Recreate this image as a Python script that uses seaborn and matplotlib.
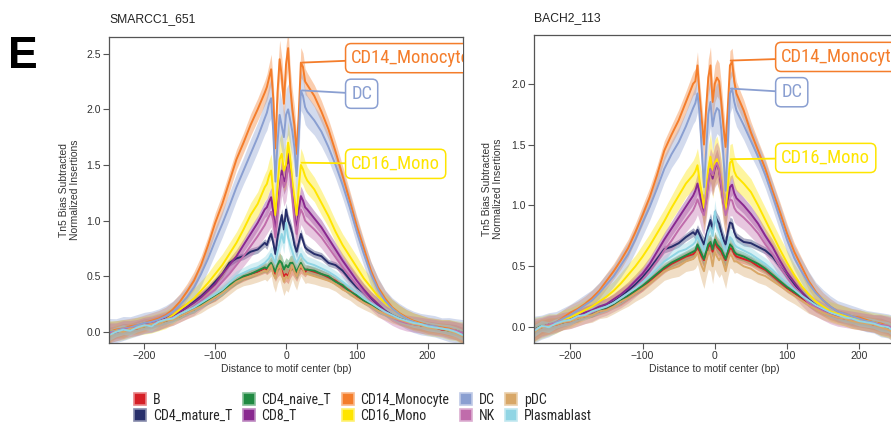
import numpy as np
import pandas as pd
import matplotlib
matplotlib.use("Agg")
import matplotlib.pyplot as plt
import matplotlib.colors as mcolors
from matplotlib.patches import Patch
from matplotlib.textpath import TextPath
from matplotlib.font_manager import FontProperties
from matplotlib import font_manager as fm
import seaborn as sns

# ---------------- data ----------------
POS = [-250, -240, -230, -220, -210, -200, -190, -180, -170, -160, -150, -140, -130, -120, -110,
       -100, -90, -80, -70, -60, -50, -40, -30,
       -27, -24, -21, -18, -15, -12, -9, -6, -3, 0, 3, 6, 9, 12, 15, 18, 21, 24, 27,
       30, 40, 50, 60, 70, 80, 90, 100, 110, 120, 130, 140, 150, 160, 170, 180, 190, 200,
       210, 220, 230, 240, 250]

GROUPS = ["B", "CD4_mature_T", "CD4_naive_T", "CD8_T", "CD14_Monocyte",
          "CD16_Mono", "DC", "NK", "pDC", "Plasmablast"]
COLORS = ["#D51F26", "#272E6A", "#208A42", "#89288F", "#F47D2B",
          "#FEE500", "#8A9FD1", "#C06CAB", "#D8A767", "#90D5E4"]

TITLE_L = "SMARCC1_651"
TITLE_R = "BACH2_113"

# relative width of the shaded band along the position axis
PROFILE = [1.0, 0.9, 0.9, 0.8, 0.8, 0.8, 0.8, 0.8, 0.8, 0.8, 0.8, 0.8, 0.9, 0.9, 0.9, 1.0, 1.0, 1.0,
           1.0, 1.0, 1.1, 1.1, 1.2,
           1.3, 1.4, 1.5, 1.7, 1.9, 1.9, 1.9, 1.9, 1.9, 1.9, 1.9, 1.9, 1.9, 1.9, 1.9, 1.7, 1.5, 1.4, 1.3,
           1.2, 1.1, 1.1, 1.0, 1.0, 1.0, 1.0, 1.0, 0.9, 0.9, 0.9, 0.8, 0.8, 0.8, 0.8, 0.8, 0.8, 0.8,
           0.8, 0.8, 0.9, 0.9, 1.0]

# ---- SMARCC1_651 ----
L_B = [-0.02, 0.01, 0.01, 0.03, 0.03, 0.06, 0.06, 0.08, 0.10, 0.12, 0.15, 0.17, 0.21, 0.24, 0.28, 0.31, 0.36, 0.41, 0.46, 0.49, 0.52, 0.54, 0.57,
       0.56, 0.58, 0.60, 0.56, 0.52, 0.56, 0.58, 0.55, 0.50, 0.52, 0.50, 0.55, 0.58, 0.55, 0.52, 0.56, 0.58, 0.56, 0.54,
       0.56, 0.54, 0.52, 0.49, 0.46, 0.41, 0.37, 0.32, 0.28, 0.24, 0.20, 0.17, 0.14, 0.11, 0.09, 0.08, 0.06, 0.05, 0.04, 0.02, 0.02, 0.00, -0.02]
L_CD4M = [-0.01, 0.01, 0.02, 0.03, 0.05, 0.06, 0.08, 0.09, 0.11, 0.14, 0.18, 0.22, 0.27, 0.32, 0.38, 0.45, 0.52, 0.62, 0.66, 0.68, 0.72, 0.74, 0.80,
          0.78, 0.84, 0.88, 0.80, 0.70, 0.85, 0.95, 1.05, 0.92, 1.10, 1.00, 0.95, 0.88, 0.78, 0.72, 0.80, 0.88, 0.82, 0.76,
          0.74, 0.70, 0.68, 0.62, 0.60, 0.55, 0.47, 0.40, 0.35, 0.29, 0.24, 0.19, 0.15, 0.12, 0.10, 0.08, 0.07, 0.06, 0.04, 0.03, 0.02, 0.01, -0.01]
L_CD4N = [-0.02, 0.00, 0.02, 0.02, 0.04, 0.05, 0.07, 0.08, 0.10, 0.12, 0.14, 0.18, 0.20, 0.25, 0.28, 0.32, 0.36, 0.42, 0.46, 0.50, 0.52, 0.55, 0.58,
          0.57, 0.60, 0.62, 0.58, 0.54, 0.60, 0.64, 0.62, 0.56, 0.60, 0.58, 0.62, 0.62, 0.58, 0.54, 0.58, 0.62, 0.58, 0.56,
          0.56, 0.55, 0.52, 0.50, 0.45, 0.42, 0.36, 0.33, 0.28, 0.25, 0.20, 0.17, 0.14, 0.11, 0.09, 0.08, 0.06, 0.05, 0.04, 0.03, 0.01, 0.00, -0.02]
L_CD8 = [-0.02, 0.00, 0.02, 0.03, 0.05, 0.07, 0.08, 0.10, 0.12, 0.15, 0.18, 0.22, 0.26, 0.31, 0.37, 0.43, 0.52, 0.60, 0.68, 0.78, 0.88, 0.98, 1.10,
         1.12, 1.17, 1.21, 1.08, 0.90, 1.10, 1.30, 1.45, 1.35, 1.40, 1.60, 1.45, 1.25, 1.05, 0.92, 1.10, 1.22, 1.18, 1.12,
         1.10, 1.02, 0.94, 0.84, 0.74, 0.64, 0.55, 0.46, 0.38, 0.31, 0.25, 0.19, 0.14, 0.11, 0.09, 0.07, 0.06, 0.05, 0.04, 0.03, 0.02, 0.01, -0.02]
L_CD14 = [0.00, 0.02, 0.03, 0.05, 0.06, 0.08, 0.10, 0.12, 0.15, 0.20, 0.27, 0.36, 0.46, 0.60, 0.78, 0.98, 1.15, 1.35, 1.55, 1.70, 1.86, 2.00, 2.15,
          2.20, 2.28, 2.36, 2.10, 1.65, 2.15, 2.45, 2.30, 2.05, 2.40, 2.55, 2.20, 2.00, 1.85, 1.60, 1.95, 2.42, 2.38, 2.25,
          2.22, 2.12, 1.98, 1.82, 1.62, 1.40, 1.18, 0.95, 0.75, 0.55, 0.40, 0.30, 0.22, 0.17, 0.13, 0.10, 0.08, 0.06, 0.05, 0.04, 0.03, 0.01, -0.02]
L_CD16 = [0.00, 0.01, 0.02, 0.03, 0.05, 0.06, 0.07, 0.09, 0.11, 0.15, 0.20, 0.25, 0.30, 0.37, 0.44, 0.52, 0.60, 0.70, 0.80, 0.92, 1.05, 1.15, 1.30,
          1.33, 1.40, 1.45, 1.25, 1.05, 1.30, 1.55, 1.60, 1.45, 1.50, 1.70, 1.55, 1.35, 1.20, 1.05, 1.30, 1.50, 1.46, 1.40,
          1.36, 1.28, 1.16, 1.04, 0.90, 0.78, 0.68, 0.58, 0.48, 0.40, 0.32, 0.26, 0.21, 0.16, 0.12, 0.09, 0.07, 0.05, 0.04, 0.03, 0.02, 0.01, -0.01]
L_DC = [0.00, 0.01, 0.03, 0.04, 0.06, 0.08, 0.09, 0.11, 0.14, 0.18, 0.24, 0.31, 0.40, 0.52, 0.66, 0.82, 0.97, 1.13, 1.30, 1.45, 1.60, 1.75, 1.92,
        1.97, 2.05, 2.10, 1.80, 1.35, 1.70, 1.95, 1.85, 1.75, 1.95, 2.00, 1.90, 1.80, 1.65, 1.40, 1.75, 2.17, 2.12, 2.02,
        1.98, 1.90, 1.80, 1.66, 1.50, 1.32, 1.12, 0.90, 0.70, 0.52, 0.38, 0.28, 0.21, 0.16, 0.12, 0.09, 0.07, 0.06, 0.05, 0.03, 0.02, 0.01, -0.01]
L_NK = [-0.01, 0.00, 0.02, 0.03, 0.04, 0.06, 0.07, 0.09, 0.11, 0.13, 0.16, 0.19, 0.23, 0.28, 0.33, 0.38, 0.45, 0.52, 0.60, 0.68, 0.77, 0.86, 0.96,
        1.00, 1.04, 1.08, 1.00, 0.85, 1.05, 1.25, 1.40, 1.30, 1.35, 1.50, 1.40, 1.20, 1.00, 0.88, 1.02, 1.10, 1.06, 1.00,
        0.98, 0.92, 0.85, 0.76, 0.67, 0.58, 0.50, 0.42, 0.35, 0.28, 0.22, 0.17, 0.13, 0.10, 0.08, 0.07, 0.06, 0.05, 0.04, 0.03, 0.02, 0.01, -0.01]
L_PDC = [-0.04, 0.01, 0.00, 0.03, 0.03, 0.05, 0.07, 0.07, 0.10, 0.11, 0.14, 0.17, 0.20, 0.23, 0.27, 0.31, 0.35, 0.40, 0.45, 0.48, 0.50, 0.52, 0.55,
         0.54, 0.57, 0.60, 0.52, 0.48, 0.56, 0.60, 0.52, 0.45, 0.50, 0.48, 0.54, 0.60, 0.54, 0.50, 0.56, 0.60, 0.56, 0.52,
         0.52, 0.50, 0.48, 0.46, 0.43, 0.38, 0.35, 0.30, 0.26, 0.23, 0.19, 0.16, 0.13, 0.11, 0.09, 0.07, 0.06, 0.04, 0.03, 0.03, 0.01, -0.01, -0.04]
L_PB = [-0.03, 0.00, 0.02, 0.01, 0.04, 0.06, 0.05, 0.09, 0.11, 0.12, 0.16, 0.19, 0.22, 0.26, 0.30, 0.34, 0.38, 0.44, 0.50, 0.53, 0.56, 0.58, 0.62,
        0.64, 0.66, 0.70, 0.66, 0.62, 0.72, 0.80, 0.88, 0.80, 0.98, 0.85, 0.78, 0.72, 0.66, 0.62, 0.66, 0.70, 0.66, 0.64,
        0.62, 0.60, 0.57, 0.54, 0.50, 0.45, 0.40, 0.35, 0.30, 0.26, 0.22, 0.18, 0.15, 0.12, 0.10, 0.08, 0.07, 0.05, 0.04, 0.03, 0.02, 0.00, -0.03]
BAND_L = [0.035, 0.03, 0.035, 0.06, 0.09, 0.10, 0.12, 0.09, 0.065, 0.05]

# ---- BACH2_113 ----
R_B = [-0.02, 0.00, 0.01, 0.02, 0.04, 0.05, 0.08, 0.09, 0.11, 0.13, 0.15, 0.18, 0.21, 0.25, 0.29, 0.33, 0.38, 0.43, 0.48, 0.52, 0.55, 0.58, 0.60,
       0.62, 0.66, 0.62, 0.58, 0.55, 0.60, 0.66, 0.68, 0.62, 0.70, 0.66, 0.64, 0.62, 0.58, 0.55, 0.60, 0.65, 0.64, 0.60,
       0.58, 0.56, 0.54, 0.50, 0.47, 0.42, 0.37, 0.32, 0.28, 0.24, 0.20, 0.16, 0.13, 0.11, 0.09, 0.07, 0.06, 0.05, 0.04, 0.02, 0.01, 0.00, -0.02]
R_CD4M = [-0.02, 0.00, 0.02, 0.03, 0.05, 0.06, 0.08, 0.10, 0.12, 0.15, 0.18, 0.21, 0.25, 0.30, 0.35, 0.41, 0.48, 0.56, 0.64, 0.66, 0.69, 0.74, 0.78,
          0.76, 0.80, 0.76, 0.72, 0.68, 0.75, 0.82, 0.88, 0.80, 0.92, 0.88, 0.85, 0.78, 0.72, 0.68, 0.78, 0.86, 0.85, 0.78,
          0.74, 0.70, 0.69, 0.66, 0.63, 0.58, 0.50, 0.42, 0.35, 0.29, 0.23, 0.18, 0.14, 0.11, 0.09, 0.08, 0.06, 0.05, 0.04, 0.03, 0.02, 0.00, -0.02]
R_CD4N = [-0.02, 0.01, 0.01, 0.03, 0.04, 0.06, 0.07, 0.10, 0.11, 0.14, 0.16, 0.19, 0.22, 0.26, 0.30, 0.34, 0.39, 0.44, 0.49, 0.53, 0.56, 0.59, 0.62,
          0.63, 0.68, 0.64, 0.60, 0.56, 0.62, 0.68, 0.70, 0.64, 0.72, 0.68, 0.66, 0.64, 0.60, 0.56, 0.62, 0.68, 0.66, 0.62,
          0.60, 0.58, 0.55, 0.52, 0.48, 0.43, 0.38, 0.33, 0.29, 0.25, 0.21, 0.17, 0.14, 0.11, 0.09, 0.08, 0.06, 0.05, 0.04, 0.03, 0.01, 0.00, -0.02]
R_CD8 = [-0.03, 0.00, 0.02, 0.03, 0.05, 0.07, 0.09, 0.12, 0.14, 0.17, 0.19, 0.23, 0.27, 0.32, 0.38, 0.44, 0.52, 0.62, 0.72, 0.81, 0.90, 0.99, 1.08,
         1.12, 1.18, 1.10, 1.02, 0.95, 1.05, 1.20, 1.30, 1.22, 1.30, 1.35, 1.28, 1.15, 1.02, 0.95, 1.05, 1.15, 1.17, 1.10,
         1.06, 1.00, 0.93, 0.85, 0.75, 0.66, 0.55, 0.45, 0.37, 0.29, 0.22, 0.17, 0.14, 0.11, 0.09, 0.08, 0.06, 0.05, 0.04, 0.03, 0.02, 0.00, -0.03]
R_CD14 = [-0.03, 0.00, 0.02, 0.04, 0.08, 0.12, 0.15, 0.19, 0.24, 0.30, 0.38, 0.46, 0.55, 0.65, 0.78, 0.92, 1.07, 1.25, 1.45, 1.58, 1.70, 1.85, 2.00,
          2.02, 2.15, 1.90, 1.70, 1.50, 1.80, 2.05, 2.15, 1.85, 2.00, 2.05, 2.02, 1.85, 1.65, 1.48, 1.80, 2.15, 2.18, 2.02,
          1.92, 1.78, 1.60, 1.45, 1.30, 1.12, 0.95, 0.77, 0.62, 0.50, 0.38, 0.29, 0.22, 0.17, 0.13, 0.11, 0.09, 0.08, 0.06, 0.04, 0.03, 0.01, -0.02]
R_CD16 = [-0.02, 0.00, 0.02, 0.03, 0.06, 0.08, 0.11, 0.14, 0.17, 0.21, 0.25, 0.30, 0.36, 0.43, 0.50, 0.58, 0.67, 0.77, 0.87, 0.98, 1.08, 1.18, 1.25,
          1.28, 1.33, 1.20, 1.10, 0.98, 1.10, 1.30, 1.40, 1.25, 1.35, 1.38, 1.30, 1.20, 1.05, 0.95, 1.15, 1.35, 1.37, 1.28,
          1.24, 1.18, 1.11, 1.00, 0.88, 0.76, 0.64, 0.53, 0.43, 0.34, 0.27, 0.21, 0.17, 0.13, 0.11, 0.09, 0.07, 0.06, 0.05, 0.04, 0.02, 0.01, -0.02]
R_DC = [-0.02, 0.00, 0.02, 0.04, 0.07, 0.10, 0.14, 0.18, 0.22, 0.28, 0.35, 0.42, 0.51, 0.60, 0.72, 0.86, 0.99, 1.14, 1.30, 1.42, 1.52, 1.65, 1.80,
        1.84, 1.92, 1.75, 1.45, 1.15, 1.45, 1.75, 1.85, 1.65, 1.75, 1.80, 1.78, 1.62, 1.40, 1.12, 1.50, 1.92, 1.96, 1.85,
        1.78, 1.66, 1.53, 1.40, 1.25, 1.08, 0.90, 0.72, 0.57, 0.46, 0.36, 0.28, 0.22, 0.17, 0.13, 0.11, 0.09, 0.07, 0.05, 0.04, 0.02, 0.01, -0.02]
R_NK = [-0.02, 0.00, 0.02, 0.03, 0.05, 0.06, 0.08, 0.10, 0.12, 0.15, 0.17, 0.20, 0.24, 0.28, 0.33, 0.39, 0.46, 0.54, 0.63, 0.71, 0.80, 0.88, 0.96,
        1.00, 1.05, 1.00, 0.95, 0.92, 1.05, 1.20, 1.30, 1.25, 1.32, 1.35, 1.30, 1.18, 1.02, 0.92, 0.98, 1.05, 1.04, 0.98,
        0.95, 0.90, 0.84, 0.77, 0.68, 0.60, 0.50, 0.41, 0.33, 0.26, 0.20, 0.16, 0.13, 0.10, 0.08, 0.07, 0.06, 0.05, 0.04, 0.03, 0.02, 0.01, -0.02]
R_PDC = [-0.04, 0.00, 0.01, 0.02, 0.04, 0.05, 0.07, 0.09, 0.10, 0.13, 0.14, 0.17, 0.21, 0.24, 0.28, 0.32, 0.36, 0.41, 0.46, 0.48, 0.50, 0.54, 0.56,
         0.58, 0.62, 0.55, 0.50, 0.46, 0.55, 0.62, 0.60, 0.50, 0.62, 0.58, 0.55, 0.58, 0.52, 0.46, 0.54, 0.60, 0.58, 0.54,
         0.54, 0.50, 0.48, 0.44, 0.42, 0.38, 0.34, 0.30, 0.26, 0.22, 0.18, 0.15, 0.12, 0.10, 0.08, 0.07, 0.05, 0.04, 0.03, 0.02, 0.00, -0.02, -0.05]
R_PB = [-0.03, 0.01, 0.00, 0.03, 0.05, 0.06, 0.09, 0.10, 0.13, 0.15, 0.17, 0.20, 0.24, 0.28, 0.32, 0.37, 0.42, 0.48, 0.54, 0.58, 0.62, 0.64, 0.68,
        0.70, 0.75, 0.70, 0.66, 0.62, 0.70, 0.78, 0.82, 0.75, 0.95, 0.82, 0.78, 0.72, 0.66, 0.62, 0.68, 0.74, 0.72, 0.68,
        0.66, 0.63, 0.60, 0.56, 0.52, 0.47, 0.41, 0.36, 0.31, 0.26, 0.22, 0.18, 0.15, 0.12, 0.10, 0.08, 0.07, 0.05, 0.04, 0.03, 0.01, 0.00, -0.04]
BAND_R = [0.035, 0.03, 0.035, 0.06, 0.08, 0.10, 0.11, 0.09, 0.075, 0.05]

LEFT = dict(zip(GROUPS, [L_B, L_CD4M, L_CD4N, L_CD8, L_CD14, L_CD16, L_DC, L_NK, L_PDC, L_PB]))
RIGHT = dict(zip(GROUPS, [R_B, R_CD4M, R_CD4N, R_CD8, R_CD14, R_CD16, R_DC, R_NK, R_PDC, R_PB]))

# ---------------- style ----------------
sns.set_theme(style="ticks")
names = {f.name for f in fm.fontManager.ttflist}
BASE = "Liberation Sans" if "Liberation Sans" in names else "DejaVu Sans"
plt.rcParams["font.family"] = [BASE, "DejaVu Sans"]


def pick_condensed():
    prefs = ["Liberation Sans Narrow", "Arial Narrow", "Roboto Condensed",
             "Open Sans Condensed", "Noto Sans", "DejaVu Sans", "Open Sans", "Roboto"]
    cands = [f for f in fm.fontManager.ttflist
             if (f.stretch in ("condensed", "semi-condensed") or "Narrow" in f.name
                 or "Condensed" in f.name)
             and f.style == "normal" and f.weight in (400, "normal", "regular")]
    for p in prefs:
        for f in cands:
            if f.name == p:
                return FontProperties(fname=f.fname)
    if cands:
        return FontProperties(fname=cands[0].fname)
    return FontProperties(family=BASE)


COND = pick_condensed()


def fit_prop(text, target_px, max_pt):
    tp = TextPath((0, 0), text, size=10, prop=COND)
    w_px = tp.get_extents().width / 10 * 100 / 72
    size = min(max_pt, target_px / w_px)
    p = COND.copy()
    p.set_size(size)
    return p


LEG_PROP = fit_prop("CD14_Monocyte", 88, 10.8)
ANN_PROP = fit_prop("CD14_Monocyt", 109, 13.4)

SPINE = "#555555"
TXT = "#333333"

fig = plt.figure(figsize=(8.91, 4.32), dpi=100)
axL = fig.add_axes([109 / 891, 1 - 343 / 432, 354 / 891, 306 / 432])
axR = fig.add_axes([534.3 / 891, 1 - 343 / 432, 361 / 891, 308 / 432])

palette = dict(zip(GROUPS, COLORS))


def draw_panel(ax, values, bands, title, ylim, yticks, title_y, ylab_x, labels):
    rows = []
    for g in GROUPS:
        for p, v in zip(POS, values[g]):
            rows.append((g, p, v))
    df = pd.DataFrame(rows, columns=["group", "pos", "value"])
    prof = np.array(PROFILE)
    for g, c, b in zip(GROUPS, COLORS, bands):
        v = np.array(values[g])
        h = b * prof
        ax.fill_between(POS, v - h, v + h, color=c, alpha=0.38, lw=0, zorder=1)
    sns.lineplot(data=df, x="pos", y="value", hue="group", hue_order=GROUPS,
                 palette=palette, errorbar=None, legend=False, ax=ax,
                 linewidth=1.4, zorder=2)
    ax.set_xlim(-250, 250)
    ax.set_ylim(*ylim)
    ax.set_xticks([-200, -100, 0, 100, 200])
    ax.set_yticks(yticks)
    ax.set_yticklabels([f"{t:.1f}" for t in yticks])
    ax.tick_params(direction="out", length=4, width=0.8, labelsize=7.5,
                   colors=SPINE, labelcolor=TXT, pad=2)
    for s in ax.spines.values():
        s.set_color(SPINE)
        s.set_linewidth(0.9)
        s.set_visible(True)
    ax.set_xlabel("Distance to motif center (bp)", fontsize=7.5, color=TXT, labelpad=2)
    ax.set_ylabel("Tn5 Bias Subtracted\nNormalized Insertions", fontsize=7.5,
                  color=TXT, linespacing=1.1)
    ax.yaxis.set_label_coords(ylab_x, 0.5)
    ax.text(0.0, title_y, title, transform=ax.transAxes, ha="left", va="center",
            fontsize=8.7, color="#222222")
    for text, color, xy, xyt in labels:
        ann = ax.annotate(text, xy=xy, xytext=xyt, textcoords="data",
                          ha="left", va="center", color=color,
                          fontproperties=ANN_PROP,
                          bbox=dict(boxstyle="round,pad=0.3,rounding_size=0.3",
                                    fc="white", ec=color, lw=1.1),
                          arrowprops=dict(arrowstyle="-", color=color, lw=1.3,
                                          shrinkA=0, shrinkB=0),
                          zorder=6)
        ann.set_clip_path(ax.patch)


draw_panel(axL, LEFT, BAND_L, TITLE_L, (-0.10, 2.65), [0.0, 0.5, 1.0, 1.5, 2.0, 2.5],
           1.059, -0.082,
           [("CD14_Monocyte", COLORS[4], (23, 2.42), (92, 2.46)),
            ("DC", COLORS[6], (23, 2.17), (92, 2.14)),
            ("CD16_Mono", COLORS[5], (22, 1.52), (92, 1.51))])
draw_panel(axR, RIGHT, BAND_R, TITLE_R, (-0.13, 2.40), [0.0, 0.5, 1.0, 1.5, 2.0],
           1.055, -0.087,
           [("CD14_Monocyte", COLORS[4], (22, 2.19), (92, 2.22)),
            ("DC", COLORS[6], (22, 1.96), (92, 1.93)),
            ("CD16_Mono", COLORS[5], (22, 1.38), (92, 1.39))])

fig.text(8 / 891, 1 - 56 / 432, "E", fontsize=32, fontweight="bold",
         ha="left", va="center", color="black")


def lighter(c, f=0.45):
    r, g, b = mcolors.to_rgb(c)
    return (r + (1 - r) * f, g + (1 - g) * f, b + (1 - b) * f)


handles = [Patch(facecolor=c, edgecolor=lighter(c), linewidth=1.2) for c in COLORS]
fs_px = LEG_PROP.get_size_in_points() * 100 / 72
lab_sp = max(0.05, (18.5 - 1.17 * fs_px) / fs_px)
colsp = 0.6
for _ in range(4):
    leg = fig.legend(handles, GROUPS, ncol=5, loc="center",
                     bbox_to_anchor=(363 / 891, 1 - 408 / 432), frameon=False,
                     prop=LEG_PROP, handlelength=12 / fs_px, handleheight=13 / fs_px,
                     handletextpad=7 / fs_px, columnspacing=colsp,
                     labelspacing=lab_sp, borderpad=0, borderaxespad=0)
    fig.canvas.draw()
    w = leg.get_window_extent().width
    leg.remove()
    colsp = max(0.1, colsp + (458 - w) / 4 / fs_px)

leg = fig.legend(handles, GROUPS, ncol=5, loc="center",
                 bbox_to_anchor=(363 / 891, 1 - 408 / 432), frameon=False,
                 prop=LEG_PROP, handlelength=12 / fs_px, handleheight=13 / fs_px,
                 handletextpad=7 / fs_px, columnspacing=colsp,
                 labelspacing=lab_sp, borderpad=0, borderaxespad=0)

fig.savefig("out.png", dpi=100)
